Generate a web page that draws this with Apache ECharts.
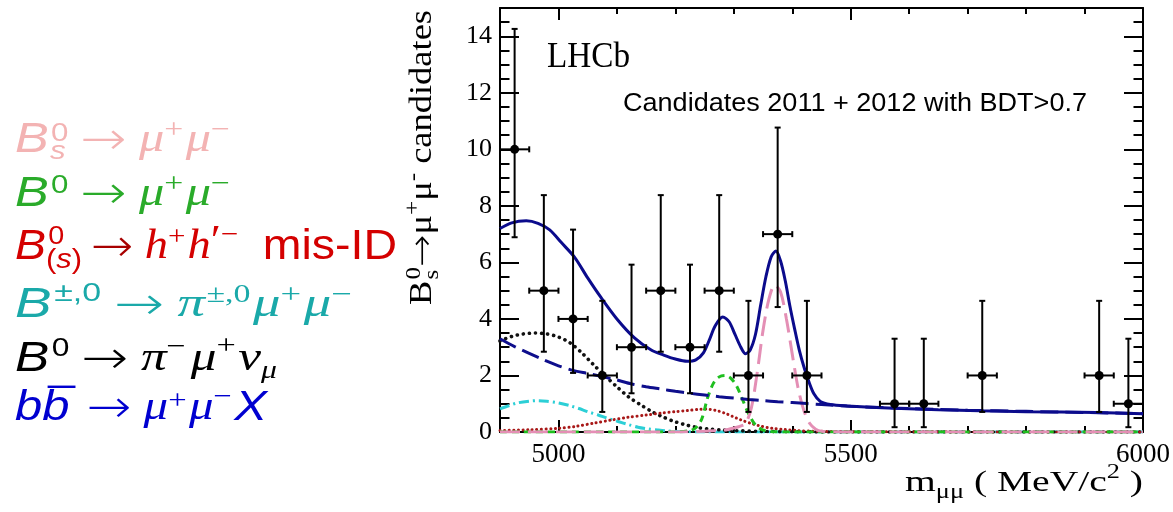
<!DOCTYPE html>
<html><head><meta charset="utf-8">
<script src="https://cdn.jsdelivr.net/npm/echarts@6.0.0/dist/echarts.min.js"></script>
<style>html,body{margin:0;padding:0;background:#fff}#c{width:1173px;height:512px}</style>
</head><body><div id="c"></div>
<script>
// ---------------- data ----------------
const xTickLabels = [5000, 5500, 6000];
const yTickLabels = [0, 2, 4, 6, 8, 10, 12, 14];
const binHalfWidth = 25;
const dataX = [4925, 4975, 5025, 5075, 5125, 5175, 5225, 5275, 5325, 5375, 5425, 5575, 5625, 5725, 5925, 5975];
const dataY = [10, 5, 4, 2, 3, 5, 3, 5, 2, 7, 2, 1, 1, 2, 2, 1];
const errLow = [6.89, 2.84, 2.09, 0.71, 1.37, 2.84, 1.37, 2.84, 0.71, 4.42, 0.71, 0.17, 0.17, 0.71, 0.71, 0.17];
const errHigh = [14.26, 8.38, 7.16, 4.64, 5.92, 8.38, 5.92, 8.38, 4.64, 10.77, 4.64, 3.3, 3.3, 4.64, 4.64, 3.3];

const totalFit = [[4900,7.2],[4920,7.4],[4945,7.47],[4965,7.38],[4985,7.15],[5005,6.7],[5028,6.17],[5050,5.45],[5073,4.75],[5100,4.0],[5130,3.33],[5158,2.91],[5180,2.72],[5200,2.58],[5220,2.5],[5235,2.55],[5248,2.8],[5258,3.25],[5268,3.75],[5281,4.07],[5292,3.9],[5302,3.45],[5312,3.0],[5320,2.77],[5328,2.9],[5337,3.45],[5346,4.5],[5355,5.5],[5364,6.2],[5372,6.4],[5380,6.05],[5388,5.35],[5396,4.45],[5404,3.65],[5412,2.9],[5420,2.3],[5428,1.8],[5437,1.35],[5448,1.08],[5465,0.97],[5494,0.92],[5574,0.84],[5650,0.79],[5721,0.75],[5800,0.72],[5920,0.69],[6000,0.65]];
const combBkg = [[4900,3.3],[4925,3.02],[4950,2.78],[4975,2.55],[5000,2.34],[5025,2.18],[5050,2.07],[5075,1.96],[5100,1.84],[5125,1.7],[5150,1.6],[5175,1.52],[5200,1.44],[5225,1.37],[5250,1.31],[5275,1.25],[5300,1.2],[5325,1.15],[5350,1.11],[5375,1.07],[5400,1.04],[5450,0.97],[5500,0.91],[5600,0.83],[5700,0.77],[5800,0.73],[5900,0.69],[6000,0.65]];
const pimunu = [[4900,3.22],[4920,3.38],[4940,3.47],[4960,3.5],[4980,3.47],[5000,3.36],[5020,3.15],[5040,2.8],[5060,2.38],[5080,1.98],[5100,1.6],[5120,1.24],[5140,0.97],[5160,0.72],[5180,0.52],[5200,0.36],[5220,0.24],[5240,0.15],[5260,0.1],[5280,0.07],[5300,0.05],[5350,0.02],[5400,0.01],[5500,0],[6000,0]];
const pimumu = [[4900,0.82],[4915,0.93],[4930,1.03],[4950,1.09],[4965,1.11],[4980,1.09],[5000,1.03],[5020,0.93],[5035,0.83],[5050,0.72],[5068,0.6],[5085,0.48],[5102,0.37],[5120,0.26],[5136,0.17],[5153,0.11],[5170,0.07],[5185,0.04],[5203,0.02],[5250,0],[6000,0]];
const misId = [[4900,0.05],[4950,0.08],[5000,0.13],[5030,0.2],[5062,0.32],[5090,0.42],[5119,0.52],[5150,0.6],[5176,0.67],[5200,0.72],[5221,0.76],[5240,0.8],[5252,0.81],[5268,0.77],[5284,0.67],[5298,0.55],[5312,0.43],[5330,0.3],[5346,0.21],[5366,0.13],[5386,0.09],[5410,0.05],[5432,0.03],[5500,0.01],[6000,0]];
const bdmumu = [[4900,0],[5200,0],[5225,0.05],[5235,0.15],[5245,0.45],[5255,1.2],[5265,1.72],[5275,1.95],[5285,2.0],[5295,1.9],[5305,1.62],[5315,1.14],[5325,0.66],[5335,0.3],[5345,0.12],[5355,0.04],[5370,0.01],[5400,0],[6000,0]];
const bsmumu = [[4900,0],[5200,0],[5250,0.03],[5280,0.06],[5290,0.09],[5300,0.14],[5310,0.2],[5320,0.3],[5330,0.85],[5340,2.1],[5350,3.6],[5360,4.7],[5370,5.2],[5380,4.95],[5390,4.0],[5400,2.75],[5410,1.55],[5420,0.75],[5430,0.3],[5440,0.1],[5450,0.03],[5500,0],[6000,0]];

// ---------------- text helpers ----------------
const S = '"Liberation Sans"', R = '"Liberation Serif"', D = '"DejaVu Sans"';
const mctx = document.createElement('canvas').getContext('2d');
function tw(font, t) { mctx.font = font; return mctx.measureText(t).width; }
function block(pieces, color, x0, yMid, targetW, rotation) {
  let x = 0, mark = 0, maxX = 0; const children = [];
  pieces.forEach(p => {
    if (p.mark) mark = x;
    if (p.back) x = mark;
    if (p.sync) x = maxX;
    x += p.kern || 0;
    const w = tw(p.font, p.t);
    children.push({type: 'text', x: x, y: p.dy || 0, silent: true,
      style: {text: p.t, font: p.font, fill: p.color || color, textAlign: 'left', textVerticalAlign: 'middle', align: 'left', verticalAlign: 'middle'}});
    x += w; maxX = Math.max(maxX, x);
  });
  const s = targetW ? targetW / maxX : 1;
  return {type: 'group', x: x0, y: yMid, rotation: rotation || 0, scaleX: s, children: children};
}
const iS = `italic 42px ${S}`, s26 = `26px ${S}`, is26 = `italic 26px ${S}`;
const AR = `200 46px ${D}`, MU = `italic 42px ${R}`, SP = `28px ${R}`;

const legendRows = [
  {color: '#f3b3b3', y: 140, w: 215, p: [
    {t:'B',font:iS},{t:'0',font:s26,dy:-6,kern:2,mark:true},{t:'s',font:is26,dy:12,back:true,kern:1},
    {t:'→',font:AR,dy:2,kern:10,sync:true},{t:'μ',font:MU,kern:10},{t:'+',font:SP,dy:-9},{t:'μ',font:MU,kern:2},{t:'−',font:SP,dy:-9}]},
  {color: '#2aab2a', y: 194, w: 215, p: [
    {t:'B',font:iS},{t:'0',font:s26,dy:-8,kern:2},
    {t:'→',font:AR,dy:2,kern:10},{t:'μ',font:MU,kern:10},{t:'+',font:SP,dy:-9},{t:'μ',font:MU,kern:2},{t:'−',font:SP,dy:-9}]},
  {color: '#d40000', y: 247, w: 382, p: [
    {t:'B',font:iS},{t:'0',font:s26,dy:-10,kern:2,mark:true},{t:'(',font:`28px ${S}`,dy:13,back:true},{t:'s',font:`italic 28px ${S}`,dy:13},{t:')',font:`28px ${S}`,dy:13},
    {t:'→',font:AR,dy:2,kern:8,sync:true,color:'#a80000'},{t:'h',font:MU,kern:10},{t:'+',font:SP,dy:-9},{t:'h',font:MU,kern:2},{t:'′',font:`42px ${R}`,dy:-4},{t:'−',font:SP,dy:-11},
    {t:'mis-ID',font:`42px ${S}`,kern:22}]},
  {color: '#1aa9a9', y: 305, w: 337, p: [
    {t:'B',font:iS},{t:'±,0',font:s26,dy:-11,kern:2},
    {t:'→',font:AR,dy:2,kern:10},{t:'π',font:MU,kern:10},{t:'±,0',font:`26px ${R}`,dy:-10,kern:1},{t:'μ',font:MU,kern:2},{t:'+',font:SP,dy:-9},{t:'μ',font:MU,kern:2},{t:'−',font:SP,dy:-9}]},
  {color: '#000000', y: 359, w: 262, p: [
    {t:'B',font:iS},{t:'0',font:s26,dy:-10,kern:2},
    {t:'→',font:AR,dy:2,kern:10},{t:'π',font:MU,kern:10},{t:'−',font:SP,dy:-11},{t:'μ',font:MU,kern:4},{t:'+',font:SP,dy:-12},{t:'ν',font:MU,kern:2},{t:'μ',font:`italic 26px ${R}`,dy:12}]},
  {color: '#0000d0', y: 408, w: 252, p: [
    {t:'b',font:iS},{t:'b',font:iS,mark:true},{t:'¯',font:iS,back:true,kern:5,dy:-1},
    {t:'→',font:AR,dy:2,kern:10,sync:true},{t:'μ',font:MU,kern:10},{t:'+',font:SP,dy:-6},{t:'μ',font:MU,kern:2},{t:'−',font:SP,dy:-10},{t:'X',font:iS,kern:2}]}
];

const graphics = legendRows.map(r => block(r.p, r.color, 15, r.y, r.w));
// y axis title (rotated)
graphics.push(block([
  {t:'B',font:`32px ${R}`},{t:'0',font:`22px ${R}`,dy:-9,kern:1,mark:true},{t:'s',font:`22px ${R}`,dy:9,back:true,kern:1},
  {t:'→',font:`200 34px ${D}`,sync:true,kern:0,dy:1},{t:'μ',font:`32px ${R}`},{t:'+',font:`22px ${R}`,dy:-10},{t:'μ',font:`32px ${R}`},{t:'-',font:`22px ${R}`,dy:-10},
  {t:' candidates',font:`32px ${R}`}], '#000', 423, 305, 295, Math.PI / 2));
// x axis title
graphics.push(block([
  {t:'m',font:`30px ${R}`},{t:'μμ',font:`20px ${R}`,dy:10},{t:' ( MeV/c',font:`30px ${R}`},{t:'2',font:`20px ${R}`,dy:-10},{t:' )',font:`30px ${R}`}
], '#000', 905, 483, 238));
// LHCb and selection text
graphics.push(block([{t:'LHCb',font:`35px ${R}`}], '#000', 547, 58, 83));
graphics.push(block([{t:'Candidates 2011 + 2012 with BDT>0.7',font:`25px ${S}`}], '#000', 623, 104, 464));

// ---------------- chart ----------------
const G = {left: 500, top: 8, width: 643, height: 424, containLabel: false, outerBoundsMode: 'none'};
const black = {color: '#000', width: 2};
const fmt = v => String(v);
function xAx(grid, pos, major, line) {
  const a = {type: 'value', gridIndex: grid, min: 4900, max: 6000, position: pos,
    axisLine: {show: line, onZero: false, lineStyle: black},
    axisTick: {show: true, inside: true, length: major ? 12 : 6, lineStyle: black},
    axisLabel: {show: false}, splitLine: {show: false}};
  if (major) a.axisTick.customValues = xTickLabels; else a.interval = 100;
  if (major && pos === 'bottom') a.axisLabel = {show: true, customValues: xTickLabels, formatter: fmt, margin: 9,
    color: '#000', fontFamily: 'Liberation Serif', fontSize: 27};
  return a;
}
function yAx(grid, pos, major, line) {
  const a = {type: 'value', gridIndex: grid, min: 0, max: 15, position: pos,
    axisLine: {show: line, onZero: false, lineStyle: black},
    axisTick: {show: true, inside: true, length: major ? 19 : 9.5, lineStyle: black},
    axisLabel: {show: false}, splitLine: {show: false}};
  if (major) a.axisTick.customValues = yTickLabels; else a.interval = 0.5;
  if (major && pos === 'left') a.axisLabel = {show: true, customValues: yTickLabels, formatter: fmt, margin: 8,
    color: '#000', fontFamily: 'Liberation Serif', fontSize: 26};
  return a;
}
function line(data, color, width, type, z, cap) {
  return {type: 'line', xAxisIndex: 0, yAxisIndex: 0, data: data, showSymbol: false, symbol: 'none', smooth: 0.3,
    silent: true, z: z, clip: true, lineStyle: {color: color, width: width, type: type, cap: cap || 'butt'}};
}
const points = dataX.map((x, i) => [x, dataY[i], errLow[i], errHigh[i]]);

const chart = echarts.init(document.getElementById('c'), null, {renderer: 'canvas'});
chart.setOption({
  animation: false,
  backgroundColor: '#fff',
  grid: [Object.assign({}, G), Object.assign({}, G)],
  xAxis: [xAx(0, 'bottom', true, true), xAx(0, 'top', true, true), xAx(1, 'bottom', false, false), xAx(1, 'top', false, false)],
  yAxis: [yAx(0, 'left', true, true), yAx(0, 'right', true, true), yAx(1, 'left', false, false), yAx(1, 'right', false, false)],
  graphic: graphics,
  series: [
    line(pimumu, '#2ccfd6', 3, [10, 4, 2, 4], 2),
    line(pimunu, '#111111', 3.6, [0.1, 6], 3, 'round'),
    line(misId, '#a81818', 3, [0.1, 4.5], 3, 'round'),
    line(bdmumu, '#1fbf1f', 3, [7, 5], 4),
    line(bsmumu, '#e48fb5', 3, [20, 8], 4),
    line(combBkg, '#0e0e8c', 3, [18, 7], 5),
    line(totalFit, '#0b0b8c', 3, 'solid', 6),
    {type: 'custom', xAxisIndex: 0, yAxisIndex: 0, data: points, z: 10, silent: true, clip: true,
      renderItem: function (params, api) {
        const x = api.value(0), y = api.value(1), lo = api.value(2), hi = api.value(3);
        const c = api.coord([x, y]), pl = api.coord([x, lo]), ph = api.coord([x, hi]);
        const xl = api.coord([x - binHalfWidth, y]), xr = api.coord([x + binHalfWidth, y]);
        const st = {stroke: '#000', lineWidth: 2};
        const cap = 3;
        const L = (x1, y1, x2, y2) => ({type: 'line', shape: {x1: x1, y1: y1, x2: x2, y2: y2}, style: st});
        return {type: 'group', children: [
          L(c[0], pl[1], c[0], ph[1]),
          L(c[0] - cap, pl[1], c[0] + cap, pl[1]),
          L(c[0] - cap, ph[1], c[0] + cap, ph[1]),
          L(xl[0], c[1], xr[0], c[1]),
          L(xl[0], c[1] - cap, xl[0], c[1] + cap),
          L(xr[0], c[1] - cap, xr[0], c[1] + cap),
          {type: 'circle', shape: {cx: c[0], cy: c[1], r: 4.5}, style: {fill: '#000'}}
        ]};
      }}
  ]
});
</script></body></html>
